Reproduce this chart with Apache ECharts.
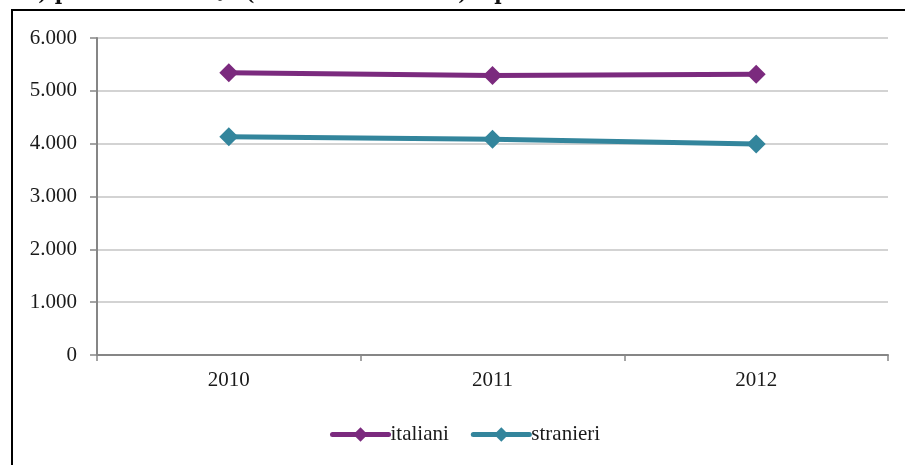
<!DOCTYPE html>
<html>
<head>
<meta charset="utf-8">
<script src="https://cdn.jsdelivr.net/npm/echarts@6/dist/echarts.min.js"></script>
<style>
html,body{margin:0;padding:0;background:#fff;}
#chart{width:905px;height:465px;}
</style>
</head>
<body>
<div id="chart"></div>
<script>
const categories = ['2010', '2011', '2012'];
const italiani = [5340, 5290, 5315];
const stranieri = [4130, 4085, 3995];
const yTicks = [0, 1000, 2000, 3000, 4000, 5000, 6000];

const serif = '"Liberation Serif", "DejaVu Serif", serif';
const titleSerif = '"DejaVu Serif", serif';
const chart = echarts.init(document.getElementById('chart'), null, {renderer: 'canvas'});

function fmt(v) {
  return String(v).replace(/\B(?=(\d{3})+(?!\d))/g, '.');
}

chart.setOption({
  animation: false,
  backgroundColor: '#ffffff',
  graphic: [
    {
      type: 'rect',
      shape: {x: 12, y: 10, width: 1000, height: 600},
      style: {fill: 'none', stroke: '#000', lineWidth: 2},
      silent: true
    },
    {
      type: 'text',
      x: 11,
      y: -5.5,
      style: {
        text: "ne) per {i|cittadinanza} (italiani e stranieri) e per fasce d'età Lombardia. 2010-2012",
        font: 'bold 20px ' + titleSerif,
        fill: '#111',
        verticalAlign: 'middle',
        rich: {
          i: {fontStyle: 'italic', fontWeight: 'bold', fontSize: 20, fontFamily: titleSerif, fill: '#111'}
        }
      },
      silent: true
    }
  ],
  grid: {left: 97, right: 17, top: 38, bottom: 110, containLabel: false},
  legend: {
    left: 325,
    top: 419,
    itemWidth: 56,
    itemHeight: 18,
    itemGap: 22,
    lineStyle: {width: 5, cap: 'round'},
    textStyle: {fontFamily: serif, fontSize: 21, color: '#1a1a1a', padding: [0, 0, 0, -3]},
    data: ['italiani', 'stranieri']
  },
  xAxis: {
    type: 'category',
    data: categories,
    boundaryGap: true,
    axisLine: {lineStyle: {color: '#868686', width: 2}},
    axisTick: {show: true, length: 6, lineStyle: {color: '#868686', width: 1.5}},
    axisLabel: {fontFamily: serif, fontSize: 21, color: '#1a1a1a', margin: 15},
    splitLine: {show: false}
  },
  yAxis: {
    type: 'value',
    min: 0,
    max: 6000,
    interval: 1000,
    axisLine: {show: true, lineStyle: {color: '#868686', width: 2}},
    axisTick: {show: true, length: 7, lineStyle: {color: '#868686', width: 1.5}},
    axisLabel: {fontFamily: serif, fontSize: 21, color: '#1a1a1a', margin: 20, formatter: v => fmt(v)},
    splitLine: {show: true, lineStyle: {color: '#c4c4c4', width: 1.5}}
  },
  series: [
    {
      name: 'italiani',
      type: 'line',
      data: italiani,
      symbol: 'diamond',
      symbolSize: 19,
      lineStyle: {color: '#7b2a7e', width: 5},
      itemStyle: {color: '#7b2a7e'},
      z: 3
    },
    {
      name: 'stranieri',
      type: 'line',
      data: stranieri,
      symbol: 'diamond',
      symbolSize: 19,
      lineStyle: {color: '#33859c', width: 5},
      itemStyle: {color: '#33859c'},
      z: 3
    }
  ]
});
</script>
</body>
</html>
